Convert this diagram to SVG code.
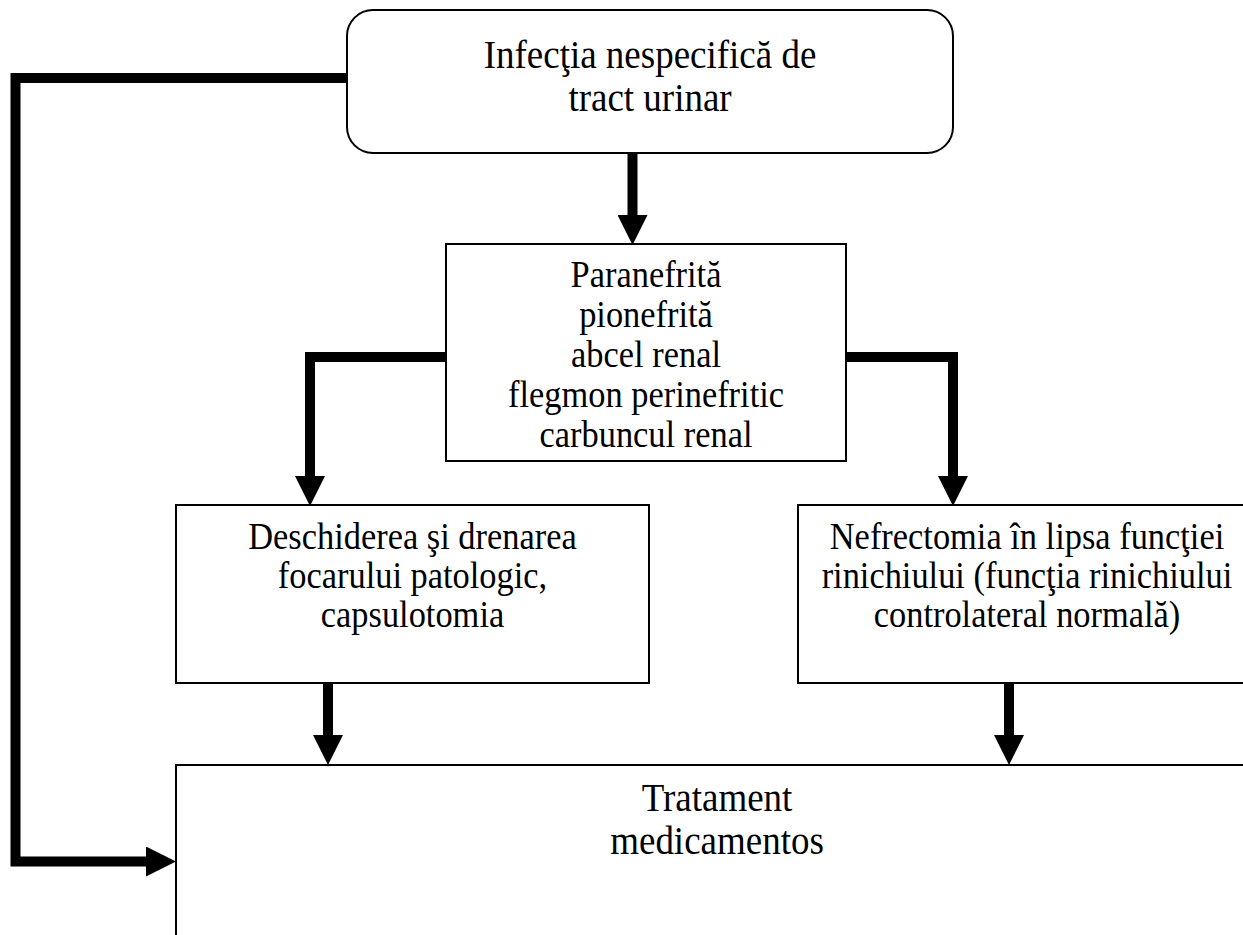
<svg xmlns="http://www.w3.org/2000/svg" width="1243" height="935" viewBox="0 0 1243 935">
  <defs>
    <!-- filled arrowhead, attached at the end of a thick connector -->
    <marker id="head" markerUnits="userSpaceOnUse" markerWidth="30" markerHeight="30" viewBox="0 0 30 30" refX="0" refY="15" orient="auto">
      <path d="M0,0 L30,15 L0,30 z" fill="#000"/>
    </marker>
  </defs>
  <style>
    .box { fill: #fff; stroke: #000; stroke-width: 2; }
    .lbl { font-family: "Liberation Serif", "Times New Roman", serif; font-size: 34.4px; fill: #000; text-anchor: middle; }
    .big { font-size: 37px; }
    .wire { fill: none; stroke: #000; stroke-width: 10; stroke-linejoin: miter; stroke-linecap: butt; marker-end: url(#head); }
  </style>
  <rect width="1243" height="935" fill="#fff"/>

  <!-- labels are slightly tall (narrow serif), so each line is stretched vertically about its baseline -->
  <g id="node-infectie">
    <rect class="box" x="347" y="10" width="606" height="143" rx="26" ry="26"/>
    <text class="lbl big" transform="translate(650,68) scale(1,1.1)">Infecţia nespecifică de</text>
    <text class="lbl big" transform="translate(650,111) scale(1,1.1)">tract urinar</text>
  </g>

  <g id="node-forme">
    <rect class="box" x="446" y="244" width="400" height="217"/>
    <text class="lbl" transform="translate(646,287) scale(1,1.1)">Paranefrită</text>
    <text class="lbl" transform="translate(646,327) scale(1,1.1)">pionefrită</text>
    <text class="lbl" transform="translate(646,367) scale(1,1.1)">abcel renal</text>
    <text class="lbl" transform="translate(646,407) scale(1,1.1)">flegmon perinefritic</text>
    <text class="lbl" transform="translate(646,447) scale(1,1.1)">carbuncul renal</text>
  </g>

  <g id="node-drenare">
    <rect class="box" x="176" y="505" width="473" height="178"/>
    <text class="lbl" transform="translate(412.5,549) scale(1,1.1)">Deschiderea şi drenarea</text>
    <text class="lbl" transform="translate(412.5,588) scale(1,1.1)">focarului patologic,</text>
    <text class="lbl" transform="translate(412.5,627) scale(1,1.1)">capsulotomia</text>
  </g>

  <g id="node-nefrectomie">
    <rect class="box" x="798" y="505" width="460" height="178"/>
    <text class="lbl" transform="translate(1027,549) scale(1,1.1)">Nefrectomia în lipsa funcţiei</text>
    <text class="lbl" transform="translate(1027,588) scale(1,1.1)">rinichiului (funcţia rinichiului</text>
    <text class="lbl" transform="translate(1027,627) scale(1,1.1)">controlateral normală)</text>
  </g>

  <g id="node-tratament">
    <rect class="box" x="176" y="765" width="1080" height="200"/>
    <text class="lbl big" transform="translate(717,811) scale(1,1.1)">Tratament</text>
    <text class="lbl big" transform="translate(717,854) scale(1,1.1)">medicamentos</text>
  </g>

  <g id="connectors">
    <path class="wire" d="M632.5,153 V215"/>
    <path class="wire" d="M446,357 H310 V476"/>
    <path class="wire" d="M846,357 H953 V476"/>
    <path class="wire" d="M328,683 V735"/>
    <path class="wire" d="M1009,683 V735"/>
    <path class="wire" d="M347,78 H15.5 V861.5 H146"/>
  </g>
</svg>
